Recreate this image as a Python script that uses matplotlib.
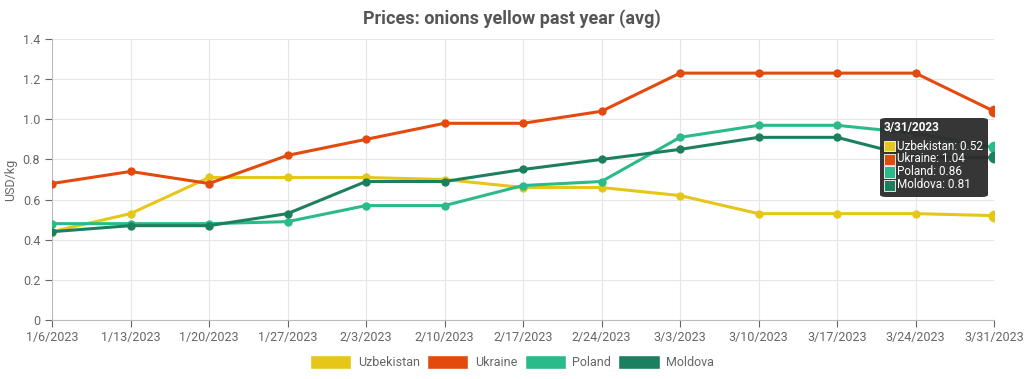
import matplotlib.pyplot as plt
from matplotlib.patches import Patch, FancyBboxPatch, Rectangle

plt.rcParams['font.family'] = ['Roboto', 'DejaVu Sans']

dates = ['1/6/2023', '1/13/2023', '1/20/2023', '1/27/2023', '2/3/2023', '2/10/2023',
         '2/17/2023', '2/24/2023', '3/3/2023', '3/10/2023', '3/17/2023', '3/24/2023',
         '3/31/2023']
uzbekistan = [0.44, 0.53, 0.71, 0.71, 0.71, 0.70, 0.66, 0.66, 0.62, 0.53, 0.53, 0.53, 0.52]
ukraine = [0.68, 0.74, 0.68, 0.82, 0.90, 0.98, 0.98, 1.04, 1.23, 1.23, 1.23, 1.23, 1.04]
poland = [0.48, 0.48, 0.48, 0.49, 0.57, 0.57, 0.67, 0.69, 0.91, 0.97, 0.97, 0.93, 0.86]
moldova = [0.44, 0.47, 0.47, 0.53, 0.69, 0.69, 0.75, 0.80, 0.85, 0.91, 0.91, 0.81, 0.81]

series = [('Uzbekistan', uzbekistan, '#e6c619'),
          ('Ukraine', ukraine, '#e24a0e'),
          ('Poland', poland, '#2bba8a'),
          ('Moldova', moldova, '#1c8060')]

W, H = 1024, 379
fig = plt.figure(figsize=(W / 100, H / 100), dpi=100)
ax = fig.add_axes([52 / W, 1 - 320 / H, 942 / W, 281 / H])

x = list(range(len(dates)))
for name, vals, col in series:
    ax.plot(x, vals, color=col, lw=2.2, marker='o', ms=5, zorder=3)
    # hovered point drawn bigger
    ax.plot(x[-1], vals[-1], 'o', color=col, ms=7.5, zorder=4)

ax.set_xlim(0, len(dates) - 1)
ax.set_ylim(0, 1.4)
ax.set_xticks(x)
ax.set_xticklabels(dates)
ax.set_yticks([0, 0.2, 0.4, 0.6, 0.8, 1.0, 1.2, 1.4])
ax.set_yticklabels(['0', '0.2', '0.4', '0.6', '0.8', '1.0', '1.2', '1.4'])
ax.grid(True, color='#e6e6e6', lw=0.8)
ax.set_axisbelow(True)
for s in ['top', 'right']:
    ax.spines[s].set_visible(False)
for s in ['left', 'bottom']:
    ax.spines[s].set_color('#bbbbbb')
ax.tick_params(colors='#666666', labelsize=9, length=5)
ax.tick_params(axis='x', pad=3)
ax.set_ylabel('USD/kg', color='#666666', fontsize=9, labelpad=4)

fig.suptitle('Prices: onions yellow past year (avg)', x=0.5, y=0.975,
             fontsize=13, fontweight='bold', color='#555555')

handles = [Patch(facecolor=c, edgecolor='white', label=n) for n, _, c in series]
fig.legend(handles=handles, loc='center', bbox_to_anchor=(0.5, 1 - 362 / H),
           ncol=4, frameon=False, fontsize=9, handlelength=3.3, handleheight=1.3,
           columnspacing=0.6, handletextpad=0.5, labelcolor='#666666')


# tooltip for the hovered date, pixel coords converted to figure fraction
def fx(px):
    return px / W


def fy(py):
    return 1 - py / H


box = FancyBboxPatch((fx(880), fy(197)), fx(108), fy(118) - fy(197),
                     boxstyle='round,pad=0,rounding_size=0.006',
                     transform=fig.transFigure, fc='#2b2b2b', ec='none',
                     alpha=0.95, zorder=10)
fig.patches.append(box)
fig.text(fx(884), fy(128), dates[-1], fontsize=8.5, fontweight='bold', color='white',
         va='center', ha='left', zorder=11)
rows = [146, 159, 172, 185]
for py, (n, v, c) in zip(rows, series):
    fig.patches.append(Rectangle((fx(884), fy(py + 5.5)), fx(11), fy(py - 5.5) - fy(py + 5.5),
                                 facecolor=c, edgecolor='white', lw=0.6,
                                 transform=fig.transFigure, zorder=12))
    fig.text(fx(897), fy(py), f'{n}: {v[-1]:.2f}', fontsize=8.5, color='white',
             va='center', ha='left', zorder=12)

fig.savefig('out.png', dpi=100)
